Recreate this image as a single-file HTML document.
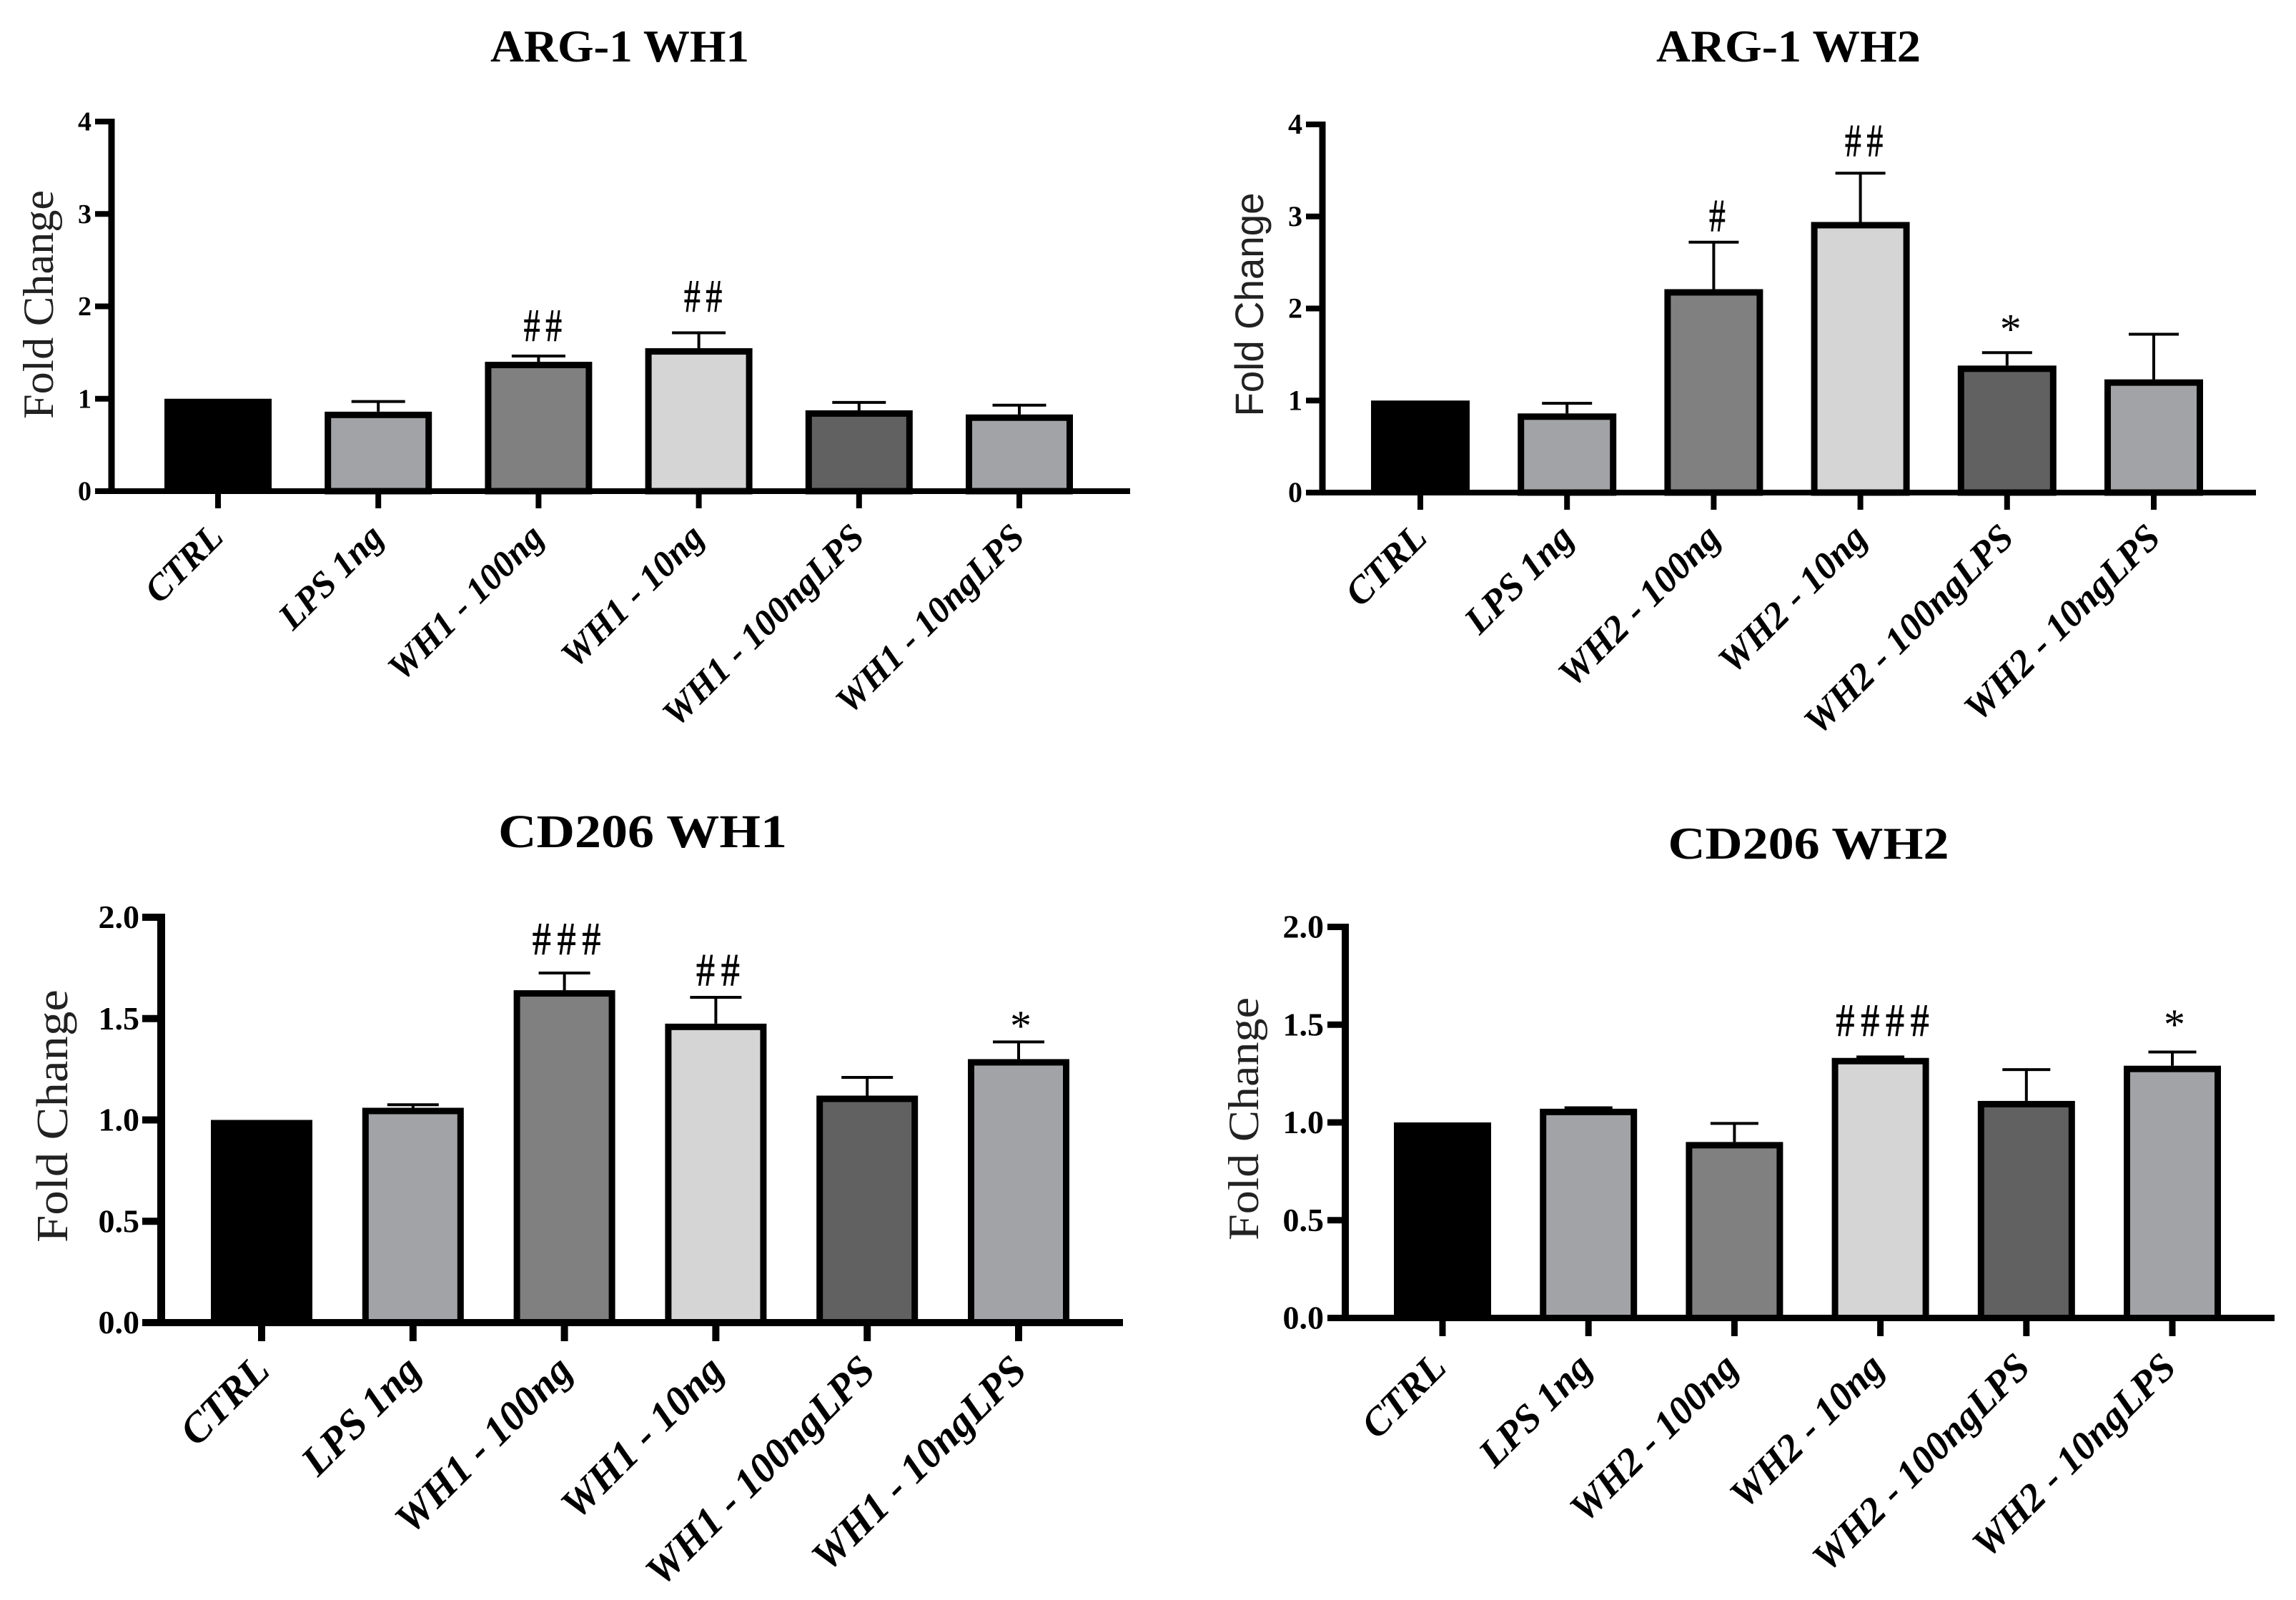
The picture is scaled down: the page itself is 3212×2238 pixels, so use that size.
<!DOCTYPE html>
<html lang="en">
<head>
<meta charset="utf-8">
<title>ARG-1 and CD206 fold change</title>
<style>
html,body{margin:0;padding:0;background:#fff;width:3212px;height:2238px;overflow:hidden}
svg{display:block}
text{font-family:"Liberation Serif",serif;fill:#000}
</style>
</head>
<body>
<svg id="figure" xmlns="http://www.w3.org/2000/svg" width="3212" height="2238" viewBox="0 0 3212 2238"></svg>
<script>
const arg1Categories = ["CTRL", "LPS 1ng", "WH1 - 100ng", "WH1 - 10ng", "WH1 - 100ngLPS", "WH1 - 10ngLPS"];
const arg1Values = [1, 0.86, 1.4, 1.547, 0.875, 0.83];
const arg1ErrorTops = [null, 0.97, 1.462, 1.714, 0.96, 0.93];
const arg1Marks = ["", "", "##", "##", "", ""];
const arg1MarkLevels = [null, null, 1.625, 1.942, null, null];
const arg1Ticks = ["0", "1", "2", "3", "4"];

const arg2Categories = ["CTRL", "LPS 1ng", "WH2 - 100ng", "WH2 - 10ng", "WH2 - 100ngLPS", "WH2 - 10ngLPS"];
const arg2Values = [1, 0.86, 2.21, 2.94, 1.38, 1.23];
const arg2ErrorTops = [null, 0.97, 2.72, 3.47, 1.52, 1.72];
const arg2Marks = ["", "", "#", "##", "*", ""];
const arg2MarkLevels = [null, null, 2.84, 3.654, 1.62, null];
const arg2Ticks = ["0", "1", "2", "3", "4"];

const cd1Categories = ["CTRL", "LPS 1ng", "WH1 - 100ng", "WH1 - 10ng", "WH1 - 100ngLPS", "WH1 - 10ngLPS"];
const cd1Values = [1, 1.06, 1.64, 1.475, 1.12, 1.3];
const cd1ErrorTops = [null, 1.075, 1.725, 1.605, 1.21, 1.385];
const cd1Marks = ["", "", "###", "##", "", "*"];
const cd1MarkLevels = [null, null, 1.816, 1.664, null, 1.394];
const cd1Ticks = ["0.0", "0.5", "1.0", "1.5", "2.0"];

const cd2Categories = ["CTRL", "LPS 1ng", "WH2 - 100ng", "WH2 - 10ng", "WH2 - 100ngLPS", "WH2 - 10ngLPS"];
const cd2Values = [1, 1.07, 0.9, 1.33, 1.11, 1.29];
const cd2ErrorTops = [null, 1.075, 0.995, 1.335, 1.27, 1.36];
const cd2Marks = ["", "", "", "####", "", "*"];
const cd2MarkLevels = [null, null, null, 1.442, null, 1.428];
const cd2Ticks = ["0.0", "0.5", "1.0", "1.5", "2.0"];

const barFills = ["#000000", "#a2a3a6", "#808080", "#d5d5d5", "#616161", "#a2a3a6"];

const NS = "http://www.w3.org/2000/svg";
const figure = document.getElementById("figure");

function make(parent, tag, attrs, content) {
  const el = document.createElementNS(NS, tag);
  for (const k in attrs) el.setAttribute(k, attrs[k]);
  if (content !== undefined) el.textContent = content;
  parent.appendChild(el);
  return el;
}

function drawChart(o) {
  const g = make(figure, "g", {});
  
  

  const yMax = parseFloat(o.ticks[o.ticks.length - 1]);
  const yScale = v => o.y0 + (o.yTop - o.y0) * v / yMax;
  const xScale = i => o.x0 + o.step * i;

  const title = make(g, "text", {
    x: o.titleX, y: o.titleY, "text-anchor": "middle", "font-size": o.titleSize,
    "font-weight": "bold", textLength: o.titleLen, lengthAdjust: "spacingAndGlyphs"
  }, o.title);
  
  

  const yTitle = make(g, "text", {
    transform: "translate(" + o.yTitleX + " " + o.yTitleY + ") rotate(-90)",
    "text-anchor": "middle", "font-size": o.yTitleSize,
    textLength: o.yTitleLen, lengthAdjust: "spacingAndGlyphs",
    style: o.sansY ? 'font-family:"Liberation Sans",sans-serif;fill:#222' : "fill:#222"
  }, "Fold Change");
  
  

  o.values.forEach((v, i) => {
    const cx = xScale(i);
    const top = yScale(v);
    if (o.errors[i] !== null) {
      const et = yScale(o.errors[i]);
      const stem = make(g, "line", { x1: cx, x2: cx, y1: top, y2: et, stroke: "#000", "stroke-width": 4 });
      
      
      const cap = make(g, "line", { x1: cx - o.capW / 2, x2: cx + o.capW / 2, y1: et, y2: et, stroke: "#000", "stroke-width": 4 });
      
      
    }
    const isSolid = barFills[i] === "#000000";
    const inset = o.barStroke / 2;
    const bar = make(g, "rect", {
      x: cx - o.barW / 2 + inset, y: top + inset,
      width: o.barW - o.barStroke, height: o.y0 - top - inset,
      fill: barFills[i], stroke: "#000", "stroke-width": o.barStroke
    });
    if (isSolid) {
      bar.setAttribute("stroke-width", 0);
      bar.setAttribute("x", cx - o.barW / 2);
      bar.setAttribute("y", top);
      bar.setAttribute("width", o.barW);
      bar.setAttribute("height", o.y0 - top);
    }
    
    

    if (o.marks[i]) {
      const markX = cx + o.markDx;
      const markY = yScale(o.markLevels[i]);
      let mark;
      if (o.marks[i].charAt(0) === "#") {
        mark = make(g, "text", {
          x: o.hashSpacing / 2, y: 0,
          transform: "translate(" + markX + " " + markY + ") scale(" + o.hashScale + " 1)",
          "text-anchor": "middle", "font-size": 65, "letter-spacing": o.hashSpacing,
          stroke: "#000", "stroke-width": 0.9
        }, o.marks[i]);
      } else {
        mark = make(g, "text", {
          x: markX, y: markY, "text-anchor": "middle", "font-size": 60
        }, o.marks[i]);
      }
      
      
    }

    const tick = make(g, "line", { x1: cx, x2: cx, y1: o.y0, y2: o.tickBottom, stroke: "#000", "stroke-width": o.axisW });
    
    

    const lx = cx + o.labelDx;
    const ly = o.y0 + o.labelDy;
    const label = make(g, "text", {
      x: lx, y: ly, transform: "rotate(-45 " + lx + " " + ly + ")", "text-anchor": "end",
      "font-size": o.labelSize, "font-weight": "bold", "font-style": "italic"
    }, o.categories[i]);
    
    
  });

  o.ticks.forEach(t => {
    const y = yScale(parseFloat(t));
    const tick = make(g, "line", { x1: o.tickLeft, x2: o.yAxisX, y1: y, y2: y, stroke: "#000", "stroke-width": o.axisW });
    
    
    const label = make(g, "text", {
      x: o.tickLabelX, y: y + o.tickSize * 0.33, "text-anchor": "end",
      "font-size": o.tickSize, "font-weight": "bold"
    }, t);
    
    
  });

  const yAxis = make(g, "line", {
    x1: o.yAxisX, x2: o.yAxisX, y1: o.yTop - o.axisW / 2, y2: o.y0 + o.axisW / 2,
    stroke: "#000", "stroke-width": o.axisW + 1
  });
  
  

  const xAxis = make(g, "line", { x1: o.tickLeft, x2: o.xEnd, y1: o.y0, y2: o.y0, stroke: "#000", "stroke-width": o.axisW });
  
  
}

drawChart({
  slug: "arg1-wh1", title: "ARG-1 WH1", categories: arg1Categories, values: arg1Values,
  errors: arg1ErrorTops, marks: arg1Marks, markLevels: arg1MarkLevels, ticks: arg1Ticks,
  x0: 305, step: 224.2, y0: 687, yTop: 170, yAxisX: 156, tickLeft: 133, xEnd: 1581, tickBottom: 711,
  barW: 150, barStroke: 9, capW: 75, axisW: 8, tickLabelX: 128, tickSize: 38,
  titleX: 867, titleY: 86, titleSize: 64, titleLen: 362,
  yTitleX: 74, yTitleY: 426, yTitleSize: 60, yTitleLen: 320,
  labelDx: 10, labelDy: 67, labelSize: 51,
  markDx: 6, hashScale: 0.7, hashSpacing: 11
});

drawChart({
  slug: "arg1-wh2", title: "ARG-1 WH2", categories: arg2Categories, values: arg2Values,
  errors: arg2ErrorTops, marks: arg2Marks, markLevels: arg2MarkLevels, ticks: arg2Ticks,
  x0: 1987, step: 205.2, y0: 689, yTop: 174, yAxisX: 1850, tickLeft: 1827, xEnd: 3156, tickBottom: 713,
  barW: 138, barStroke: 9, capW: 70, axisW: 8, tickLabelX: 1822, tickSize: 40,
  titleX: 2502, titleY: 86, titleSize: 64, titleLen: 370,
  yTitleX: 1767, yTitleY: 426, yTitleSize: 56, yTitleLen: 313, sansY: true,
  labelDx: 12, labelDy: 66, labelSize: 53,
  markDx: 5, hashScale: 0.7, hashSpacing: 11
});

drawChart({
  slug: "cd206-wh1", title: "CD206 WH1", categories: cd1Categories, values: cd1Values,
  errors: cd1ErrorTops, marks: cd1Marks, markLevels: cd1MarkLevels, ticks: cd1Ticks,
  x0: 366, step: 211.8, y0: 1850, yTop: 1283, yAxisX: 225.5, tickLeft: 199, xEnd: 1571, tickBottom: 1876,
  barW: 142, barStroke: 9, capW: 72, axisW: 10, tickLabelX: 195, tickSize: 46,
  titleX: 899, titleY: 1185, titleSize: 66, titleLen: 404,
  yTitleX: 94, yTitleY: 1561, yTitleSize: 62, yTitleLen: 354,
  labelDx: 14, labelDy: 70, labelSize: 58,
  markDx: 3, hashScale: 0.8, hashSpacing: 11
});

drawChart({
  slug: "cd206-wh2", title: "CD206 WH2", categories: cd2Categories, values: cd2Values,
  errors: cd2ErrorTops, marks: cd2Marks, markLevels: cd2MarkLevels, ticks: cd2Ticks,
  x0: 2018, step: 204.2, y0: 1843.5, yTop: 1296.5, yAxisX: 1882, tickLeft: 1857, xEnd: 3182, tickBottom: 1869,
  barW: 136, barStroke: 9, capW: 67, axisW: 9, tickLabelX: 1852, tickSize: 46,
  titleX: 2530, titleY: 1201, titleSize: 64, titleLen: 393,
  yTitleX: 1760, yTitleY: 1565, yTitleSize: 60, yTitleLen: 340,
  labelDx: 8, labelDy: 72, labelSize: 55,
  markDx: 3, hashScale: 0.8, hashSpacing: 11
});
</script>
</body>
</html>
